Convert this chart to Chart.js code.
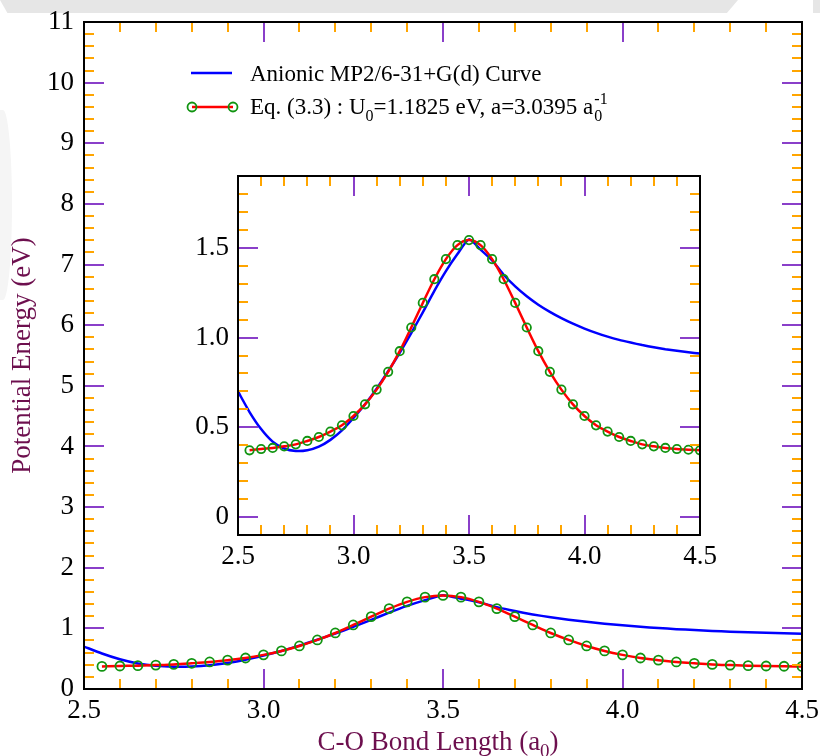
<!DOCTYPE html>
<html>
<head>
<meta charset="utf-8">
<title>C-O potential energy</title>
<script src="https://cdn.jsdelivr.net/npm/chart.js@4.4.1/dist/chart.umd.min.js"></script>
<style>
  html, body { margin: 0; padding: 0; background: #fff; }
  #wrap { position: relative; width: 820px; height: 756px; overflow: hidden; }
  #mainChart { position: absolute; left: 0; top: 0; }
  #insetChart { position: absolute; left: 180px; top: 160px; }
  /* faint watermark strip along the top edge */
  .mark { position: absolute; background: #e6e6e6; }
</style>
</head>
<body>
<div id="wrap">
  <div class="mark" style="left:0;top:0;width:738px;height:13px;clip-path:polygon(0 0,100% 0,98.5% 100%,1% 100%);"></div>
  <div class="mark" style="left:813px;top:0;width:10px;height:13px;"></div>
  <div class="mark" style="left:-6px;top:110px;width:18px;height:190px;background:#f5f5f5;border-radius:0 60% 60% 0;"></div>
  <canvas id="mainChart" width="820" height="756"></canvas>
  <canvas id="insetChart" width="540" height="420"></canvas>
</div>
<script>
// Anionic MP2/6-31+G(d) curve (bond length in a0, energy in eV)
const mp2Length = [2.5, 2.55, 2.6, 2.65, 2.7, 2.75, 2.8, 2.85, 2.9, 2.95, 3.0, 3.05, 3.1, 3.15, 3.2, 3.25, 3.3, 3.35, 3.4, 3.45,
                   3.5, 3.55, 3.6, 3.65, 3.7, 3.75, 3.8, 3.85, 3.9, 3.95, 4.0, 4.05, 4.1, 4.15, 4.2, 4.25, 4.3, 4.35, 4.4, 4.45, 4.5];
const mp2Energy = [0.70, 0.585, 0.49, 0.42, 0.382, 0.368, 0.372, 0.392, 0.43, 0.483, 0.552, 0.628, 0.715, 0.812, 0.915, 1.025, 1.14, 1.26, 1.37, 1.465,
                   1.547, 1.49, 1.43, 1.35, 1.285, 1.23, 1.183, 1.143, 1.108, 1.077, 1.05, 1.026, 1.005, 0.987, 0.972, 0.958, 0.946, 0.935, 0.926, 0.918, 0.911];

// Eq. (3.3) fit, sampled points (green circles)
const fitLength = [2.55, 2.6, 2.65, 2.7, 2.75, 2.8, 2.85, 2.9, 2.95, 3.0, 3.05, 3.1, 3.15, 3.2, 3.25, 3.3, 3.35, 3.4, 3.45, 3.5,
                   3.55, 3.6, 3.65, 3.7, 3.75, 3.8, 3.85, 3.9, 3.95, 4.0, 4.05, 4.1, 4.15, 4.2, 4.25, 4.3, 4.35, 4.4, 4.45, 4.5];
const fitEnergy = [0.372, 0.379, 0.385, 0.394, 0.405, 0.424, 0.446, 0.476, 0.511, 0.563, 0.628, 0.71, 0.809, 0.924, 1.056, 1.193, 1.325, 1.437, 1.515, 1.543,
                   1.515, 1.437, 1.325, 1.193, 1.056, 0.924, 0.809, 0.71, 0.628, 0.563, 0.511, 0.476, 0.446, 0.424, 0.405, 0.394, 0.385, 0.379, 0.375, 0.372];

// tick labels
const xTickLabels = [2.5, 3.0, 3.5, 4.0, 4.5];
const mainYTicks = [0, 1, 2, 3, 4, 5, 6, 7, 8, 9, 10, 11];
const insetYTicks = [0, 0.5, 1.0, 1.5];

const SERIF = '"Liberation Serif", "DejaVu Serif", serif';
const MAJOR_COLOR = '#8a3fc9';
const MINOR_COLOR = '#ffa500';
const TITLE_COLOR = '#6d0f4e';

function steps(from, to, step) {
    const out = [];
    for (let v = from; v <= to + 1e-9; v += step) out.push(Math.round(v * 1000) / 1000);
    return out;
}
function minorOnly(all, majors) {
    return all.filter(v => !majors.some(m => Math.abs(m - v) < 1e-6));
}

function toPoints(xs, ys) {
    return xs.map((x, i) => ({x: x, y: ys[i]}));
}

// inward ticks on all four sides + black frame
const frameTicks = {
    id: 'frameTicks',
    afterDatasetsDraw(chart, args, opts) {
        const ctx = chart.ctx;
        const a = chart.chartArea;
        const xs = chart.scales.x, ys = chart.scales.y;
        ctx.save();
        ctx.lineWidth = 2;
        const drawX = (vals, len, color) => {
            ctx.strokeStyle = color;
            ctx.beginPath();
            vals.forEach(v => {
                const px = Math.round(xs.getPixelForValue(v));
                ctx.moveTo(px, a.bottom); ctx.lineTo(px, a.bottom - len);
                ctx.moveTo(px, a.top); ctx.lineTo(px, a.top + len);
            });
            ctx.stroke();
        };
        const drawY = (vals, len, color) => {
            ctx.strokeStyle = color;
            ctx.beginPath();
            vals.forEach(v => {
                const py = Math.round(ys.getPixelForValue(v));
                ctx.moveTo(a.left, py); ctx.lineTo(a.left + len, py);
                ctx.moveTo(a.right, py); ctx.lineTo(a.right - len, py);
            });
            ctx.stroke();
        };
        drawX(opts.xMinor, 10, MINOR_COLOR);
        drawY(opts.yMinor, 10, MINOR_COLOR);
        drawX(opts.xMajor, 20, MAJOR_COLOR);
        drawY(opts.yMajor, 20, MAJOR_COLOR);
        ctx.strokeStyle = '#000';
        ctx.lineWidth = 2;
        ctx.strokeRect(a.left, a.top, a.right - a.left, a.bottom - a.top);
        ctx.restore();
    }
};

// draw a run of text pieces: [text, size, dy]
function drawRuns(ctx, x, y, runs) {
    let cx = x;
    runs.forEach(r => {
        ctx.font = r[1] + 'px ' + SERIF;
        ctx.fillText(r[0], cx, y + (r[2] || 0));
        cx += ctx.measureText(r[0]).width;
    });
    return cx;
}
function runsWidth(ctx, runs) {
    let w = 0;
    runs.forEach(r => {
        ctx.font = r[1] + 'px ' + SERIF;
        w += ctx.measureText(r[0]).width;
    });
    return w;
}

// legend and axis titles of the main plot
const mainDecor = {
    id: 'mainDecor',
    afterDraw(chart) {
        const ctx = chart.ctx;
        const a = chart.chartArea;
        ctx.save();
        ctx.textBaseline = 'alphabetic';
        ctx.textAlign = 'left';

        // legend
        ctx.lineWidth = 2.5;
        ctx.strokeStyle = '#0000ff';
        ctx.beginPath(); ctx.moveTo(191, 73); ctx.lineTo(232, 73); ctx.stroke();
        ctx.fillStyle = '#000';
        drawRuns(ctx, 250, 81, [['Anionic MP2/6-31+G(d) Curve', 23]]);

        ctx.strokeStyle = '#ff0000';
        ctx.beginPath(); ctx.moveTo(192, 107); ctx.lineTo(233, 107); ctx.stroke();
        ctx.strokeStyle = '#119411';
        ctx.lineWidth = 1.8;
        [192, 233].forEach(cx => {
            ctx.beginPath(); ctx.arc(cx, 107, 4.5, 0, Math.PI * 2); ctx.stroke();
        });
        ctx.fillStyle = '#000';
        const eqRuns = [['Eq. (3.3) : U', 23], ['0', 16, 7], ['=1.1825 eV, a=3.0395 a', 23]];
        drawRuns(ctx, 250, 114, eqRuns);
        const endX = 250 + runsWidth(ctx, eqRuns);
        drawRuns(ctx, endX + 1, 121, [['0', 16]]);
        drawRuns(ctx, endX + 1, 104, [['-1', 16]]);

        // x title
        ctx.fillStyle = TITLE_COLOR;
        const xRuns = [['C-O Bond Length (a', 27], ['0', 19, 7], [')', 27]];
        const w = runsWidth(ctx, xRuns);
        drawRuns(ctx, (a.left + a.right) / 2 - w / 2 - 5, 750, xRuns);

        // y title
        ctx.translate(30, (a.top + a.bottom) / 2);
        ctx.rotate(-Math.PI / 2);
        ctx.textAlign = 'center';
        ctx.font = '27px ' + SERIF;
        ctx.fillText('Potential Energy (eV)', 0, 0);
        ctx.restore();
    }
};

function datasets(radius) {
    return [{
        label: 'Eq. (3.3)',
        data: toPoints(fitLength, fitEnergy),
        borderColor: '#ff0000',
        borderWidth: 2.5,
        cubicInterpolationMode: 'monotone',
        pointRadius: radius,
        pointBorderWidth: 1.8,
        pointBorderColor: '#119411',
        pointBackgroundColor: 'rgba(0,0,0,0)',
        order: 0
    }, {
        label: 'Anionic MP2/6-31+G(d) Curve',
        data: toPoints(mp2Length, mp2Energy),
        borderColor: '#0000ff',
        borderWidth: 2.5,
        tension: 0.2,
        pointRadius: 0,
        order: 1
    }];
}

function setTicks(values) {
    return function (scale) {
        scale.ticks = values.map(v => ({value: v}));
    };
}

// keep the plot box where layout.padding puts it (no extra room for edge labels)
function fixSize(prop, size) {
    return function (scale) {
        scale[prop] = size;
        scale.paddingTop = 0;
        scale.paddingBottom = 0;
        scale.paddingLeft = 0;
        scale.paddingRight = 0;
    };
}

const xMajor = xTickLabels;
const xMinor = minorOnly(steps(2.5, 4.5, 0.1), xMajor);

// main chart
new Chart(document.getElementById('mainChart'), {
    type: 'line',
    data: {datasets: datasets(4.5)},
    plugins: [frameTicks, mainDecor],
    options: {
        responsive: false,
        animation: false,
        devicePixelRatio: 1,
        layout: {padding: {top: 22, right: 18, left: 0, bottom: 0}},
        plugins: {
            legend: {display: false},
            tooltip: {enabled: false},
            frameTicks: {
                xMajor: xMajor,
                xMinor: xMinor,
                yMajor: mainYTicks,
                yMinor: minorOnly(steps(0, 11, 0.2), mainYTicks)
            }
        },
        scales: {
            x: {
                type: 'linear', min: 2.5, max: 4.5,
                afterBuildTicks: setTicks(xTickLabels),
                afterFit: fixSize('height', 67),
                grid: {display: false, drawTicks: false},
                border: {display: false},
                ticks: {
                    padding: 6, color: '#000', maxRotation: 0,
                    font: {family: SERIF, size: 27},
                    callback: v => Number(v).toFixed(1)
                }
            },
            y: {
                type: 'linear', min: 0, max: 11,
                afterBuildTicks: setTicks(mainYTicks),
                afterFit: fixSize('width', 84),
                grid: {display: false, drawTicks: false},
                border: {display: false},
                ticks: {
                    padding: 10, color: '#000',
                    font: {family: SERIF, size: 27},
                    callback: v => String(v)
                }
            }
        }
    }
});

// inset chart
new Chart(document.getElementById('insetChart'), {
    type: 'line',
    data: {datasets: datasets(4.2)},
    plugins: [frameTicks],
    options: {
        responsive: false,
        animation: false,
        devicePixelRatio: 1,
        layout: {padding: {top: 16, right: 20, left: 0, bottom: 0}},
        plugins: {
            legend: {display: false},
            tooltip: {enabled: false},
            frameTicks: {
                xMajor: xMajor,
                xMinor: xMinor,
                yMajor: insetYTicks,
                yMinor: minorOnly(steps(-0.1, 1.9, 0.1), insetYTicks)
            }
        },
        scales: {
            x: {
                type: 'linear', min: 2.5, max: 4.5,
                afterBuildTicks: setTicks(xTickLabels),
                afterFit: fixSize('height', 45),
                grid: {display: false, drawTicks: false},
                border: {display: false},
                ticks: {
                    padding: 6, color: '#000', maxRotation: 0,
                    font: {family: SERIF, size: 27},
                    callback: v => Number(v).toFixed(1)
                }
            },
            y: {
                type: 'linear', min: -0.1, max: 1.9,
                afterBuildTicks: setTicks(insetYTicks),
                afterFit: fixSize('width', 58),
                grid: {display: false, drawTicks: false},
                border: {display: false},
                ticks: {
                    padding: 9, color: '#000',
                    font: {family: SERIF, size: 27},
                    callback: v => (v === 0 ? '0' : Number(v).toFixed(1))
                }
            }
        }
    }
});
</script>
</body>
</html>
